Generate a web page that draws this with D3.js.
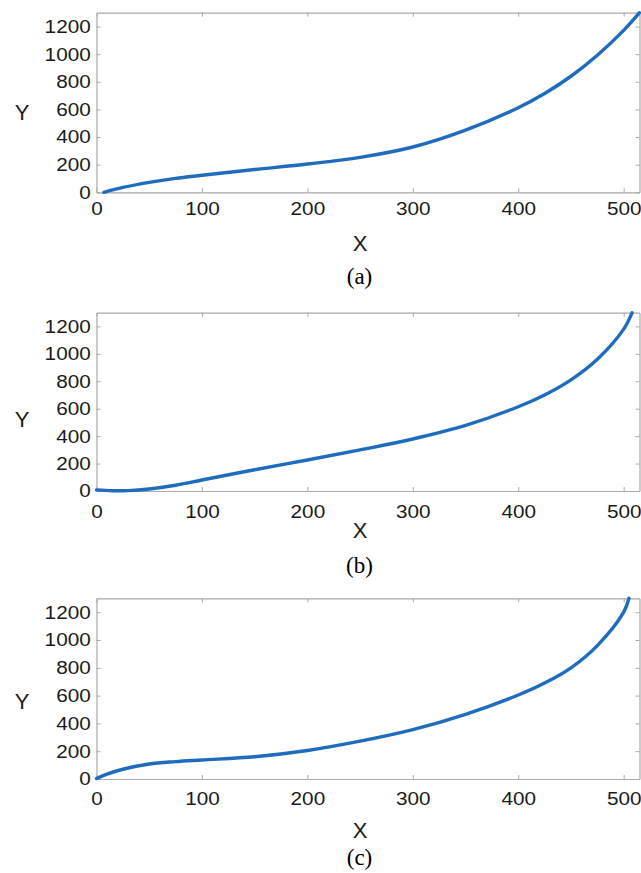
<!DOCTYPE html>
<html>
<head>
<meta charset="utf-8">
<script src="https://cdn.jsdelivr.net/npm/d3@7"></script>
<style>
  body { margin: 0; background: #fff; }
  svg { display: block; }
</style>
</head>
<body>
<div id="chart"></div>
<script>
// curve values (x, y)
var xA = [7, 25, 50, 75, 100, 150, 200, 250, 300, 350, 400, 425, 450, 475, 500, 515];
var yA = [0, 35, 72, 101, 123, 165, 205, 253, 328, 450, 612, 715, 840, 992, 1172, 1300];

var xB = [0, 15, 30, 50, 75, 100, 150, 200, 250, 300, 350, 400, 425, 450, 475, 500, 508];
var yB = [8, 2, 3, 15, 42, 80, 155, 226, 300, 379, 478, 614, 700, 810, 960, 1180, 1300];

var xC = [0, 10, 25, 50, 75, 100, 150, 200, 250, 300, 350, 400, 425, 450, 475, 500, 505];
var yC = [3, 35, 70, 108, 125, 137, 160, 205, 272, 355, 465, 604, 690, 800, 960, 1200, 1300];

var xTicks = [0, 100, 200, 300, 400, 500];
var yTicks = [0, 200, 400, 600, 800, 1000, 1200];
var captions = ["(a)", "(b)", "(c)"];

var svgWidth = 641;
var svgHeight = 873;

var svg = d3.select("#chart")
  .append("svg")
  .attr("width", svgWidth)
  .attr("height", svgHeight);

var panels = [
  { xs: xA, ys: yA, top: 12.7, bottom: 192.3, xlab: 16, xTitle: 243, cap: 284, yTitle: 112 },
  { xs: xB, ys: yB, top: 312.7, bottom: 491, xlab: 20.5, xTitle: 530, cap: 572.5, yTitle: 419 },
  { xs: xC, ys: yC, top: 598.3, bottom: 779, xlab: 19.5, xTitle: 830, cap: 865, yTitle: 701 }
];

var left = 96.5, right = 639.5;
var gray = "#a9a9a9";

panels.forEach(function (p, i) {
  var x = d3.scaleLinear().domain([0, 515]).range([left, right]);
  var y = d3.scaleLinear().domain([0, 1300]).range([p.bottom, p.top]);

  var g = svg.append("g");

  // bottom axis with labels
  var bottom = g.append("g")
    .attr("transform", `translate(0, ${p.bottom})`)
    .call(d3.axisBottom(x).tickValues(xTicks).tickFormat(d3.format("d"))
      .tickSizeInner(-4).tickSizeOuter(0).tickPadding(0));
  bottom.selectAll("text")
    .attr("y", p.xlab)
    .attr("dy", "0.35em");

  var leftAx = g.append("g")
    .attr("transform", `translate(${left}, 0)`)
    .call(d3.axisLeft(y).tickValues(yTicks).tickFormat(d3.format("d"))
      .tickSizeInner(-4).tickSizeOuter(0).tickPadding(0));
  leftAx.selectAll("text")
    .attr("x", -5.2);

  // top and right ticks, no labels
  g.append("g")
    .attr("transform", `translate(0, ${p.top})`)
    .call(d3.axisTop(x).tickValues(xTicks).tickSizeInner(-4).tickSizeOuter(0).tickFormat(""));
  g.append("g")
    .attr("transform", `translate(${right}, 0)`)
    .call(d3.axisRight(y).tickValues(yTicks).tickSizeInner(-4).tickSizeOuter(0).tickFormat(""));

  g.selectAll(".domain").attr("stroke", gray).attr("stroke-width", 1.2);
  g.selectAll(".tick line").attr("stroke", gray).attr("stroke-width", 1);
  g.selectAll(".tick text")
    .attr("fill", "#1a1a1a")
    .attr("font-family", "Liberation Sans, Arial, sans-serif")
    .attr("font-size", 18.5)
    .attr("transform", "scale(1.12,1)");

  var pts = p.xs.map(function (v, k) { return [v, p.ys[k]]; });
  var line = d3.line()
    .x(d => x(d[0]))
    .y(d => y(d[1]))
    .curve(d3.curveCatmullRom.alpha(0.5));

  g.append("path")
    .datum(pts)
    .attr("d", line)
    .attr("fill", "none")
    .attr("stroke", "#1f6cbf")
    .attr("stroke-width", 3.4)
    .attr("stroke-linecap", "round");

  g.append("text")
    .attr("x", 22)
    .attr("y", p.yTitle)
    .attr("dy", "0.35em")
    .attr("text-anchor", "middle")
    .attr("font-family", "Liberation Sans, Arial, sans-serif")
    .attr("font-size", 22)
    .attr("fill", "#1a1a1a")
    .text("Y");

  g.append("text")
    .attr("x", 360)
    .attr("y", p.xTitle)
    .attr("dy", "0.35em")
    .attr("text-anchor", "middle")
    .attr("font-family", "Liberation Sans, Arial, sans-serif")
    .attr("font-size", 22)
    .attr("fill", "#1a1a1a")
    .text("X");

  g.append("text")
    .attr("x", 359.5)
    .attr("y", p.cap)
    .attr("text-anchor", "middle")
    .attr("font-family", "Liberation Serif, Times New Roman, serif")
    .attr("font-size", 23)
    .attr("fill", "#000")
    .text(captions[i]);
});
</script>
</body>
</html>
